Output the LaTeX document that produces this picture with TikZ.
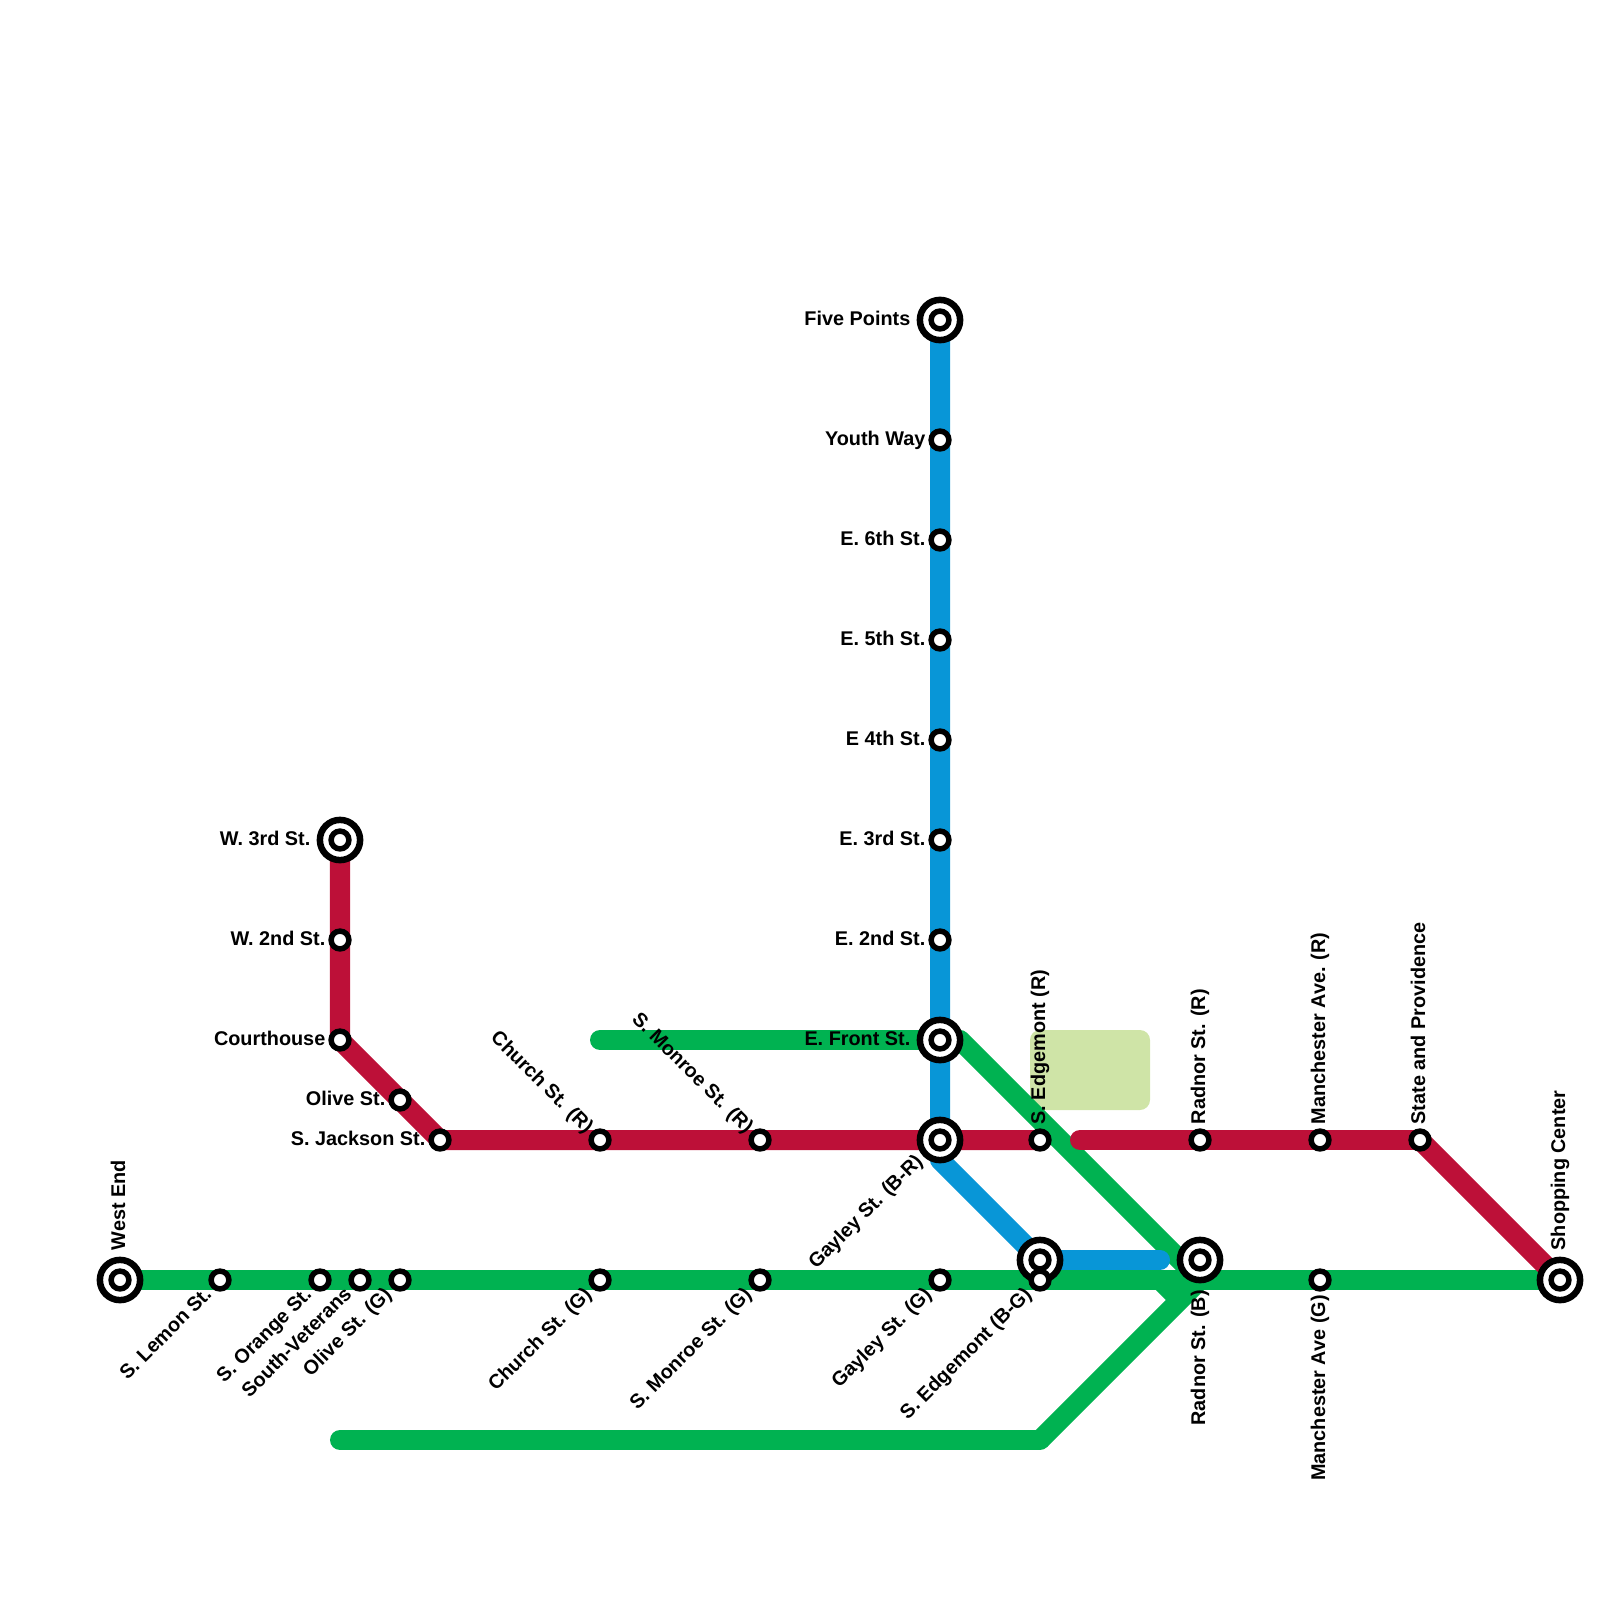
\documentclass[tikz,border=0pt]{standalone}
\usepackage{fontspec}
\setmainfont{Liberation Sans}
\usetikzlibrary{backgrounds}
\definecolor{LineGreen}{HTML}{00B251}
\definecolor{LineRed}{HTML}{BD1038}
\definecolor{LineBlue}{HTML}{0896D7}
\definecolor{ParkGreen}{HTML}{CFE4A7}
\tikzset{
    metro/.style={line width=0.2cm, line join=round},
    stn/.style={circle, draw=black, fill=white, line width=0.055cm, minimum size=0.178cm, inner sep=0pt},
    hub/.style={circle, draw=black, fill=white, line width=0.065cm, minimum size=0.402cm, inner sep=0pt},
    lbl/.style={font=\fontsize{5.64}{7}\selectfont\bfseries, inner sep=0pt, text=black, text height=0.143cm, text depth=0pt},
    lblW/.style={lbl, anchor=east, xshift=-0.14cm, yshift=0.015cm},
    lblHub/.style={lbl, anchor=east, xshift=-0.29cm, yshift=0.015cm},
    lblUp/.style={lbl, anchor=west, xshift=-0.02cm, yshift=0.15cm, rotate=90},
    lblHubUp/.style={lbl, anchor=west, xshift=-0.02cm, yshift=0.29cm, rotate=90},
    lblDown/.style={lbl, anchor=east, xshift=-0.02cm, yshift=-0.145cm, rotate=90},
    lblSW/.style={lbl, anchor=east, xshift=-0.12cm, yshift=-0.1cm, rotate=45},
    lblNW/.style={lbl, anchor=east, xshift=-0.09cm, yshift=0.1cm, rotate=-45},
}
\begin{document}
\begin{tikzpicture}[x=0.01cm, y=-0.01cm]
    \useasboundingbox (0,0) rectangle (1600,1600);

    % Blue stations
    \node[hub] (fivepoints) at (940,320) {};
    \node[stn] (fivepointsin) at (fivepoints) {};
    \node[stn] (youth) at (940,440) {};
    \node[stn] (sixth) at (940,540) {};
    \node[stn] (fifth) at (940,640) {};
    \node[stn] (fourth) at (940,740) {};
    \node[stn] (third) at (940,840) {};
    \node[stn] (second) at (940,940) {};
    \node[hub] (front) at (940,1040) {};
    \node[stn] (frontin) at (front) {};
    \node[hub] (gayleybr) at (940,1140) {};
    \node[stn] (gayleybrin) at (gayleybr) {};
    \node[hub] (edgebg) at (1040,1260) {};
    \node[stn] (edgebgin) at (edgebg) {};
    \node[hub] (radnorb) at (1200,1260) {};
    \node[stn] (radnorbin) at (radnorb) {};

    % Red stations
    \node[hub] (wthird) at (340,840) {};
    \node[stn] (wthirdin) at (wthird) {};
    \node[stn] (wsecond) at (340,940) {};
    \node[stn] (courthouse) at (340,1040) {};
    \node[stn] (olive) at (400,1100) {};
    \node[stn] (jackson) at (440,1140) {};
    \node[stn] (churchr) at (600,1140) {};
    \node[stn] (monroer) at (760,1140) {};
    \node[stn] (edger) at (1040,1140) {};
    \node[stn] (radnorr) at (1200,1140) {};
    \node[stn] (manchr) at (1320,1140) {};
    \node[stn] (state) at (1420,1140) {};

    % Green stations
    \node[hub] (westend) at (120,1280) {};
    \node[stn] (westendin) at (westend) {};
    \node[stn] (lemon) at (220,1280) {};
    \node[stn] (orange) at (320,1280) {};
    \node[stn] (veterans) at (360,1280) {};
    \node[stn] (oliveg) at (400,1280) {};
    \node[stn] (churchg) at (600,1280) {};
    \node[stn] (monroeg) at (760,1280) {};
    \node[stn] (gayleyg) at (940,1280) {};
    \node[stn] (edgeg) at (1040,1280) {};
    \node[stn] (manchg) at (1320,1280) {};
    \node[hub] (shopping) at (1560,1280) {};
    \node[stn] (shoppingin) at (shopping) {};

    % Line ends and bends
    \coordinate (greentop) at (600,1040);
    \coordinate (greenbend) at (960,1040);
    \coordinate (greenjoin) at (1200,1280);
    \coordinate (forkin) at (1160,1280);
    \coordinate (forkout) at (1180,1300);
    \coordinate (greenlow) at (1040,1440);
    \coordinate (greenend) at (340,1440);
    \coordinate (blueend) at (1160,1260);
    \coordinate (bluebend) at (940,1160);
    \coordinate (redstart) at (1080,1140);

    \begin{scope}[on background layer]
        % Park
        \fill[ParkGreen, rounded corners=0.1cm] (1030,1030) rectangle (1150,1110);

        % Green lines
        \draw[metro, LineGreen, line cap=round] (greentop) -- (front.center);
        \draw[metro, LineGreen] (front.center) -- (greenbend) -- (greenjoin);
        \draw[metro, LineGreen] (westend.center) -- (shopping.center);
        \draw[metro, LineGreen] (forkin) -- (forkout);
        \draw[metro, LineGreen] (greenjoin) -- (greenlow);
        \draw[metro, LineGreen, line cap=round] (greenlow) -- (greenend);

        % Red lines
        \draw[metro, LineRed] (wthird.center) -- (courthouse.center) -- (jackson.center) -- (edger.center);
        \draw[metro, LineRed, line cap=round] (redstart) -- (state.center);
        \draw[metro, LineRed] (state.center) -- (shopping.center);

        % Blue line
        \draw[metro, LineBlue] (fivepoints.center) -- (bluebend) -- (edgebg.center);
        \draw[metro, LineBlue, line cap=round] (edgebg.center) -- (blueend);
    \end{scope}

    % Labels on the blue line
    \node[lblHub] (fivepointslbl) at (fivepoints) {Five Points};
    \node[lblW] (youthlbl) at (youth) {Youth Way};
    \node[lblW] (sixthlbl) at (sixth) {E. 6th St.};
    \node[lblW] (fifthlbl) at (fifth) {E. 5th St.};
    \node[lblW] (fourthlbl) at (fourth) {E 4th St.};
    \node[lblW] (thirdlbl) at (third) {E. 3rd St.};
    \node[lblW] (secondlbl) at (second) {E. 2nd St.};
    \node[lblHub] (frontlbl) at (front) {E. Front St.};
    \node[lbl, anchor=east, xshift=-0.21cm, yshift=-0.17cm, rotate=45] (gayleybrlbl) at (gayleybr) {Gayley St. (B-R)};

    % Labels on the red line
    \node[lblHub] (wthirdlbl) at (wthird) {W. 3rd St.};
    \node[lblW] (wsecondlbl) at (wsecond) {W. 2nd St.};
    \node[lblW] (courthouselbl) at (courthouse) {Courthouse};
    \node[lblW] (olivelbl) at (olive) {Olive St.};
    \node[lblW] (jacksonlbl) at (jackson) {S. Jackson St.};
    \node[lblNW] (churchrlbl) at (churchr) {Church St. (R)};
    \node[lblNW] (monroerlbl) at (monroer) {S. Monroe St. (R)};
    \node[lblUp] (edgerlbl) at (edger) {S. Edgemont (R)};
    \node[lblUp] (radnorrlbl) at (radnorr) {Radnor St. (R)};
    \node[lblUp] (manchrlbl) at (manchr) {Manchester Ave. (R)};
    \node[lblUp] (statelbl) at (state) {State and Providence};

    % Labels on the green line
    \node[lblHubUp] (westendlbl) at (westend) {West End};
    \node[lblSW] (lemonlbl) at (lemon) {S. Lemon St.};
    \node[lblSW] (orangelbl) at (orange) {S. Orange St.};
    \node[lblSW] (veteranslbl) at (veterans) {South-Veterans};
    \node[lblSW] (oliveglbl) at (oliveg) {Olive St. (G)};
    \node[lblSW] (churchglbl) at (churchg) {Church St. (G)};
    \node[lblSW] (monroeglbl) at (monroeg) {S. Monroe St. (G)};
    \node[lblSW] (gayleyglbl) at (gayleyg) {Gayley St. (G)};
    \node[lblSW] (edgeglbl) at (edgeg) {S. Edgemont (B-G)};
    \node[lbl, anchor=east, xshift=-0.02cm, yshift=-0.295cm, rotate=90] (radnorblbl) at (radnorb) {Radnor St. (B)};
    \node[lblDown] (manchglbl) at (manchg) {Manchester Ave (G)};
    \node[lblHubUp] (shoppinglbl) at (shopping) {Shopping Center};
\end{tikzpicture}
\end{document}
